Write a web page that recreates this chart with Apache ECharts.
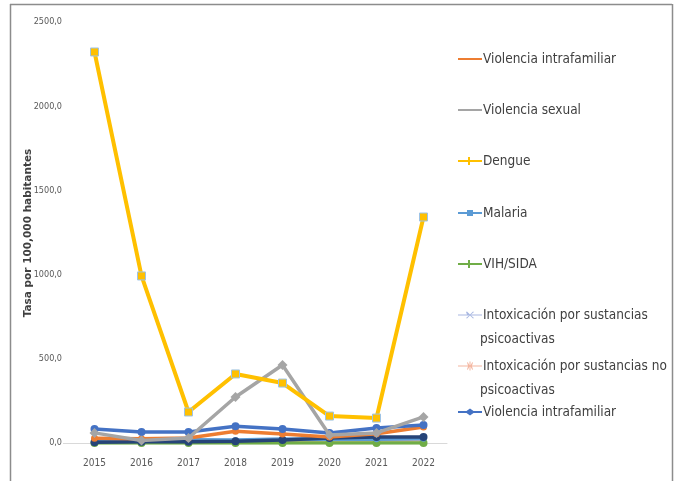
<!DOCTYPE html>
<html>
<head>
<meta charset="utf-8">
<script src="https://cdn.jsdelivr.net/npm/echarts@6/dist/echarts.min.js"></script>
<style>
html,body{margin:0;padding:0;background:#fff;}
#c{width:676px;height:481px;}
</style>
</head>
<body>
<div id="c"></div>
<script>
var years = ['2015','2016','2017','2018','2019','2020','2021','2022'];
var yTicks = [0, 500, 1000, 1500, 2000, 2500];
var violenciaIntrafamiliar = [28, 25, 30, 70, 53, 35, 55, 95];
var violenciaSexual = [60, 15, 30, 273, 463, 48, 60, 155];
var dengue = [2322, 992, 184, 410, 356, 160, 148, 1342];
var malaria = [22, 20, 20, 18, 24, 22, 22, 25];
var vihSida = [0, 0, 0, 0, 0, 0, 0, 0];
var intoxPsico = [4, 8, 8, 10, 18, 30, 35, 35];
var intoxNoPsico = [10, 8, 8, 10, 12, 12, 14, 18];
var violenciaIntrafamiliar2 = [83, 65, 65, 100, 83, 60, 89, 107];

var FONT = "'DejaVu Sans Condensed','DejaVu Sans',sans-serif";
var chart = echarts.init(document.getElementById('c'), null, {renderer:'canvas'});

var names = ['Violencia intrafamiliar','Violencia sexual','Dengue','Malaria','VIH/SIDA',
  'Intoxicación por sustancias psicoactivas','Intoxicación por sustancias no psicoactivas',
  'Violencia intrafamiliar '];
var firstLines = {
  'Intoxicación por sustancias psicoactivas':'Intoxicación por sustancias',
  'Intoxicación por sustancias no psicoactivas':'Intoxicación por sustancias no'
};
var legendColors = ['#ED7D31','#A5A5A5','#FFC000','#5B9BD5','#70AD47','#A9B8E2','#F4B6A0','#4472C4'];
var legendTops = [47, 98, 149, 201, 252, 303, 354, 400];
var legendSymbols = [null, null, 'cross', 'square', 'cross', 'x', 'star', 'diamond'];

var legends = names.map(function(n, i){
  var c = legendColors[i];
  var sym = legendSymbols[i];
  var iconPath;
  if (!sym) iconPath = 'path://M0,4h24v2h-24z';
  else if (sym === 'cross') iconPath = 'path://M0,4h10v-3h2v3h12v2h-12v3h-2v-3h-10z';
  else if (sym === 'square') iconPath = 'path://M0,4h9v-2h6v2h9v2h-9v2h-6v-2h-9z';
  else if (sym === 'x') iconPath = 'path://M0,4.5h9L8,2L9,1.5L12,4.5L15,1.5L16,2L13,4.5h11v1h-11L16,8L15,8.5L12,5.5L9,8.5L8,8L11,5.5h-11z';
  else if (sym === 'star') iconPath = 'path://M0,4.5h10L9,1.5L9.8,1.2L11.5,4.5V0.5h1V4.5L14.2,1.2L15,1.5L14,4.5h10v1h-10L15,8.5L14.2,8.8L12.5,5.5V9.5h-1V5.5L9.8,8.8L9,8.5L10,5.5h-10z';
  else iconPath = 'path://M0,4h8.5L12,1.5L15.5,4h8.5v2h-8.5L12,8.5L8.5,6h-8.5z';
  return {
    show: true,
    left: 453,
    top: legendTops[i],
    orient: 'horizontal',
    itemWidth: 24,
    itemHeight: 9,
    itemGap: 0,
    selectedMode: false,
    data: [{name: n, icon: iconPath, itemStyle: {color: c, borderWidth: 0}}],
    formatter: function(name){ return firstLines[name] || name.trim(); },
    textStyle: {fontFamily: FONT, fontSize: 13.5, color: '#404040', padding: [0,0,0,-4]}
  };
});

function mkSeries(name, data, color, symbol, size, z, width) {
  return {
    name: name, type: 'line', data: data, z: z,
    symbol: symbol, symbolSize: size, showSymbol: symbol !== 'none',
    lineStyle: {color: color, width: width || 3.5},
    itemStyle: {color: color, borderWidth: 0},
    emphasis: {disabled: true},
    animation: false
  };
}

var series = [
  mkSeries(names[6], intoxNoPsico, '#F4B6A0', 'circle', 5, 2),
  mkSeries(names[4], vihSida, '#70AD47', 'circle', 8, 3),
  mkSeries(names[3], malaria, '#5B9BD5', 'circle', 6, 4),
  mkSeries(names[5], intoxPsico, '#264478', 'circle', 8, 5),
  mkSeries(names[0], violenciaIntrafamiliar, '#ED7D31', 'circle', 7, 6),
  mkSeries(names[7], violenciaIntrafamiliar2, '#4472C4', 'circle', 8, 7),
  mkSeries(names[1], violenciaSexual, '#A5A5A5', 'diamond', 10, 8),
  mkSeries(names[2], dengue, '#FFC000', 'rect', 8, 9, 4)
];
series[7].itemStyle = {color:'#FFC000', borderColor:'#9DC3E6', borderWidth:1};

chart.setOption({
  backgroundColor: '#ffffff',
  animation: false,
  legend: legends,
  grid: {left: 71, right: 229, top: 22, bottom: 38, containLabel: false},
  xAxis: {
    type: 'category', data: years, boundaryGap: true,
    axisLine: {show: true, lineStyle: {color: '#D9D9D9', width: 1}},
    axisTick: {show: false},
    axisLabel: {fontFamily: FONT, fontSize: 10, color: '#595959', margin: 15}
  },
  yAxis: {
    type: 'value', min: yTicks[0], max: yTicks[yTicks.length-1], interval: 500,
    axisLine: {show: false}, axisTick: {show: false},
    splitLine: {show: false},
    axisLabel: {fontFamily: FONT, fontSize: 9, color: '#595959', margin: 9,
      formatter: function(v){ return v.toFixed(1).replace('.', ','); }}
  },
  series: series,
  graphic: [
    {type:'line', shape:{x1:10,y1:4.5,x2:672,y2:4.5}, style:{stroke:'#8C8C8C', lineWidth:1.5}},
    {type:'line', shape:{x1:10.5,y1:4,x2:10.5,y2:481}, style:{stroke:'#8C8C8C', lineWidth:1.5}},
    {type:'line', shape:{x1:672.5,y1:4,x2:672.5,y2:481}, style:{stroke:'#8C8C8C', lineWidth:1.5}},
    {type:'line', shape:{x1:63,y1:443.5,x2:71,y2:443.5}, style:{stroke:'#D9D9D9', lineWidth:1}},
    {type:'text', x: 28, y: 233, rotation: Math.PI/2,
      style:{text:'Tasa por 100,000 habitantes', font:"bold 10.5px 'DejaVu Sans',sans-serif", fill:'#404040', align:'center', verticalAlign:'middle'}},
    {type:'text', left: 480, top: 332, style:{text:'psicoactivas', font:"13.5px 'DejaVu Sans Condensed','DejaVu Sans',sans-serif", fill:'#404040'}},
    {type:'text', left: 480, top: 383, style:{text:'psicoactivas', font:"13.5px 'DejaVu Sans Condensed','DejaVu Sans',sans-serif", fill:'#404040'}}
  ]
});
</script>
</body>
</html>
